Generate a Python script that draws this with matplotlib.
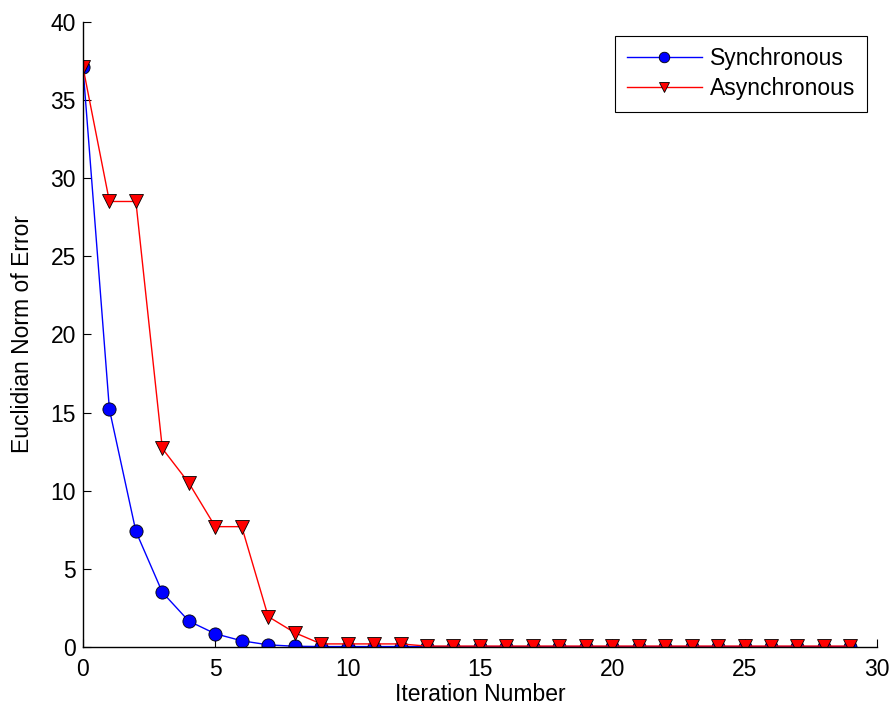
#! /usr/bin/env python
"""Plot error norm of synchronous vs asynchronous iteration."""

import matplotlib
matplotlib.use('Agg')
import matplotlib.pyplot as plt

plt.rcParams['font.family'] = ['Liberation Sans', 'DejaVu Sans']

iterations = list(range(30))
sync_err = [37.1, 15.2, 7.4, 3.5, 1.66, 0.85, 0.40, 0.14, 0.05, 0.03,
            0.03, 0.03, 0.03, 0.03, 0.03, 0.03, 0.03, 0.03, 0.03, 0.03,
            0.03, 0.03, 0.03, 0.03, 0.03, 0.03, 0.03, 0.03, 0.03, 0.03]
async_err = [37.1, 28.5, 28.5, 12.7, 10.5, 7.7, 7.7, 1.95, 0.92, 0.2,
             0.2, 0.2, 0.2, 0.06, 0.06, 0.06, 0.06, 0.06, 0.06, 0.06,
             0.06, 0.06, 0.06, 0.06, 0.06, 0.06, 0.06, 0.06, 0.06, 0.06]

FS = 16.5

fig = plt.figure(figsize=(8.92, 7.09), dpi=100)
ax = fig.add_axes([0.093, 0.0874, 0.890, 0.882])

ax.plot(iterations, sync_err, '-o', color='blue', lw=1, ms=9.5,
        mfc='blue', mec='black', mew=0.6, label='Synchronous')
ax.plot(iterations, async_err, '-v', color='red', lw=1, ms=9.5,
        mfc='red', mec='black', mew=0.6, label='Asynchronous')

ax.set_xlim(0, 30)
ax.set_ylim(0, 40)
ax.set_xticks(range(0, 31, 5))
ax.set_yticks(range(0, 41, 5))
ax.spines['top'].set_visible(False)
ax.spines['right'].set_visible(False)
ax.tick_params(direction='in', length=6, labelsize=FS)
ax.tick_params(axis='x', pad=8)
ax.tick_params(axis='y', pad=5)
for s in ax.spines.values():
    s.set_linewidth(1)

ax.set_xlabel('Iteration Number', fontsize=FS, labelpad=1.5)
ax.set_ylabel('Euclidian Norm of Error', fontsize=FS, labelpad=12)

leg = ax.legend(loc='upper right', bbox_to_anchor=(867 / 892, 1 - 36 / 709),
                bbox_transform=fig.transFigure, borderaxespad=0,
                fontsize=FS, fancybox=False, edgecolor='black',
                framealpha=1, handlelength=3.3, handletextpad=0.35,
                borderpad=0.5, labelspacing=0.3, markerscale=0.8)
leg.get_frame().set_linewidth(0.8)

fig.savefig('out.png', dpi=100)
